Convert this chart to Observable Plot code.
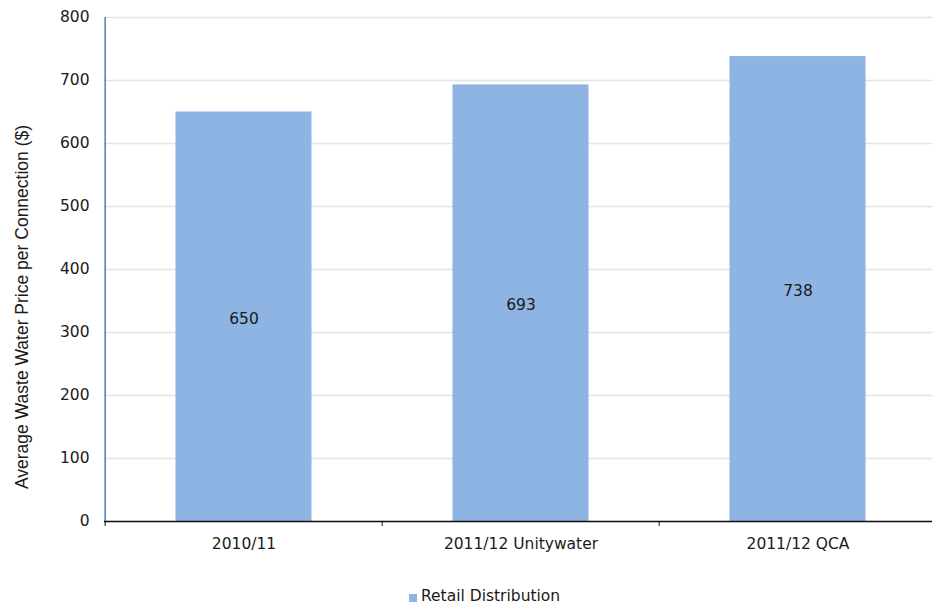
<!DOCTYPE html>
<html>
<head>
<meta charset="utf-8">
<script src="https://cdn.jsdelivr.net/npm/d3@7"></script>
<script src="https://cdn.jsdelivr.net/npm/@observablehq/plot@0.6"></script>
<style>
  html, body { margin: 0; padding: 0; background: #fff; overflow: hidden; }
  #wrap { position: relative; width: 932px; height: 608px; }
  #legend { position: absolute; left: 409px; top: 587px; display: flex; align-items: center;
    font-family: "DejaVu Sans", Verdana, sans-serif; font-size: 15.5px; color: #1a1a1a; }
  #legend .sw { width: 8px; height: 8px; background: #8eb4e3; margin-right: 4px; margin-top: 4px; }
</style>
</head>
<body>
<div id="wrap">
  <div id="chart"></div>
  <div id="legend"><span class="sw"></span><span>Retail Distribution</span></div>
</div>
<script>
const categories = ["2010/11", "2011/12 Unitywater", "2011/12 QCA"];
const values = [650, 693, 738];
const yTicks = [0, 100, 200, 300, 400, 500, 600, 700, 800];
const seriesName = "Retail Distribution";
const yTitle = "Average Waste Water Price per Connection ($)";

const data = categories.map((c, i) => ({category: c, value: values[i], series: seriesName}));

const W = 932, H = 560;
const xRange = [104, 937];
const step = (xRange[1] - xRange[0]) / categories.length;
const barColor = "#8eb4e3";
const font = "'DejaVu Sans', Verdana, sans-serif";

const chart = Plot.plot({
  width: W,
  height: H,
  marginTop: 17,
  marginBottom: 39,
  marginLeft: 104,
  marginRight: 0,
  style: {fontFamily: font, fontSize: "15.5px", color: "#1a1a1a", background: "#fff"},
  x: {domain: categories, range: xRange, padding: 0},
  y: {domain: [0, 800]},
  marks: [
    Plot.ruleY(yTicks, {stroke: "#e4e4e4", strokeWidth: 1.5}),
    Plot.barY(data, {x: "category", y: "value", fill: barColor, insetLeft: 70.5, insetRight: 70.5}),
    Plot.text(data, {x: "category", y: d => d.value / 2, dy: 2, text: d => String(d.value), fill: "#1a1a1a", fontSize: 15.5}),
    Plot.axisY(yTicks, {tickSize: 0, tickPadding: 15, fontSize: 15.5, label: null, fill: "#1a1a1a"}),
    Plot.axisX(categories, {tickSize: 0, tickPadding: 16, fontSize: 15.5, label: null, fill: "#1a1a1a"}),
    Plot.ruleX([categories[0]], {x: d => d, dx: -step / 2, stroke: "#4a7ebb", strokeWidth: 1.5}),
    Plot.ruleY([0], {stroke: "#111", strokeWidth: 1.5}),
    Plot.ruleX(categories, {x: d => d, dx: -step / 2, y1: 0, y2: 0, insetBottom: -5, stroke: "#111", strokeWidth: 1})
  ]
});
document.getElementById("chart").appendChild(chart);

// rotated y-axis title
const svg = d3.select(chart);
svg.append("text")
  .attr("transform", "translate(28,307) rotate(-90)")
  .attr("text-anchor", "middle")
  .attr("font-family", "'Liberation Sans', Arial, sans-serif")
  .attr("font-size", 17.5)
  .attr("fill", "#1a1a1a")
  .text(yTitle);
</script>
</body>
</html>
